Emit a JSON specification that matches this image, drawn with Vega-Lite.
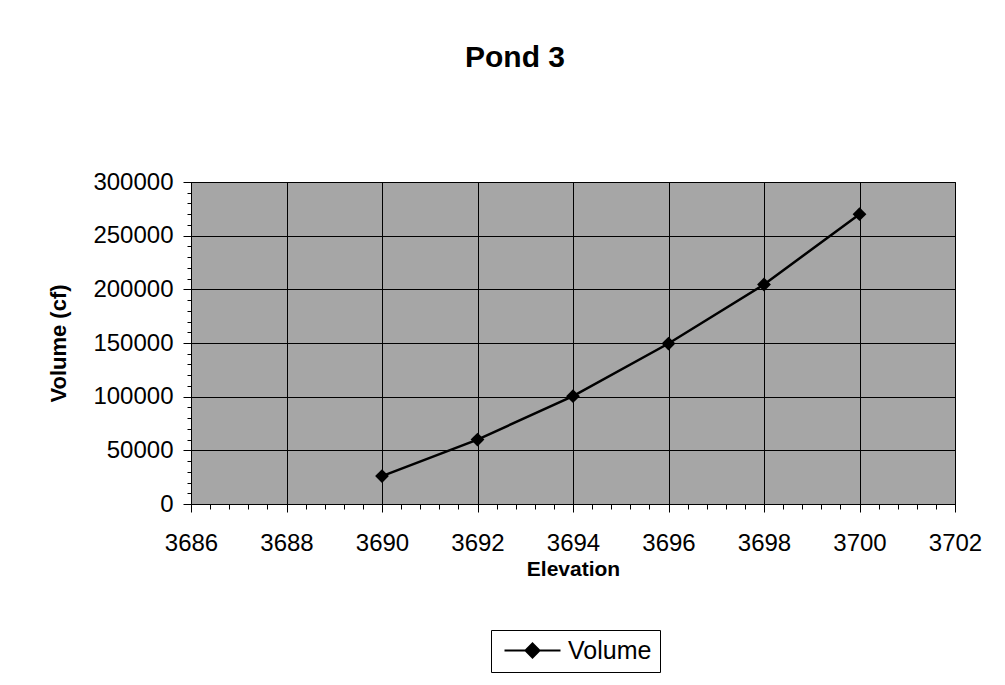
{
  "$schema": "https://vega.github.io/schema/vega-lite/v6.json",
  "width": 764,
  "height": 322,
  "autosize": {"type": "none"},
  "padding": {"left": 191, "top": 182, "right": 50, "bottom": 181},
  "background": "white",
  "title": {
    "text": "Pond 3",
    "font": "Liberation Sans",
    "fontSize": 30,
    "fontWeight": "bold",
    "color": "black",
    "anchor": "middle",
    "frame": "group",
    "baseline": "alphabetic",
    "dx": -58,
    "offset": 73
  },
  "config": {
    "view": {"fill": "#a6a6a6", "stroke": "black", "strokeWidth": 1},
    "axis": {
      "labelFont": "Liberation Sans",
      "titleFont": "Liberation Sans",
      "labelColor": "black",
      "titleColor": "black",
      "domainColor": "black",
      "tickColor": "black",
      "gridColor": "black",
      "gridOpacity": 1,
      "gridWidth": 1
    }
  },
  "data": {
    "values": [
      {"Elevation": 3690, "Volume": 26000, "series": "Volume"},
      {"Elevation": 3692, "Volume": 60000, "series": "Volume"},
      {"Elevation": 3694, "Volume": 100500, "series": "Volume"},
      {"Elevation": 3696, "Volume": 149500, "series": "Volume"},
      {"Elevation": 3698, "Volume": 204500, "series": "Volume"},
      {"Elevation": 3700, "Volume": 270000, "series": "Volume"}
    ]
  },
  "resolve": {"axis": {"x": "independent", "y": "independent"}},
  "layer": [
    {
      "mark": {"type": "line", "strokeWidth": 2.5},
      "encoding": {
        "x": {
          "field": "Elevation",
          "type": "quantitative",
          "scale": {"domain": [3686, 3702], "nice": false, "zero": false},
          "axis": {
            "orient": "bottom",
            "values": [3686, 3688, 3690, 3692, 3694, 3696, 3698, 3700, 3702],
            "grid": true,
            "tickSize": 8,
            "labelFontSize": 24,
            "labelPadding": 19,
            "labelFlush": false,
            "format": "d",
            "title": "Elevation",
            "titleFontSize": 21,
            "titleFontWeight": "bold",
            "titlePadding": 3
          }
        },
        "y": {
          "field": "Volume",
          "type": "quantitative",
          "scale": {"domain": [0, 300000], "nice": false},
          "axis": {
            "orient": "left",
            "values": [0, 50000, 100000, 150000, 200000, 250000, 300000],
            "grid": true,
            "tickSize": 8,
            "labelFontSize": 24,
            "labelPadding": 10,
            "labelFlush": false,
            "format": "d",
            "title": "Volume (cf)",
            "titleFontSize": 22,
            "titleFontWeight": "bold",
            "titlePadding": 22
          }
        },
        "color": {
          "field": "series",
          "type": "nominal",
          "scale": {"domain": ["Volume"], "range": ["black"]},
          "legend": {
            "title": null,
            "orient": "none",
            "legendX": 300,
            "legendY": 448,
            "direction": "vertical",
            "strokeColor": "black",
            "fillColor": "white",
            "padding": 8,
            "cornerRadius": 0,
            "symbolType": "M-1,0H7M3,-1L4,0L3,1L2,0Z",
            "symbolSize": 196,
            "symbolStrokeWidth": 2,
            "labelFont": "Liberation Sans",
            "labelFontSize": 25,
            "labelColor": "black",
            "labelOffset": 44,
            "encode": {
              "symbols": {
                "update": {
                  "fill": {"value": "black"},
                  "stroke": {"value": "black"},
                  "strokeWidth": {"value": 2}
                }
              }
            }
          }
        }
      }
    },
    {
      "mark": {"type": "point", "shape": "diamond", "filled": true, "color": "black", "size": 190, "opacity": 1},
      "encoding": {
        "x": {
          "field": "Elevation",
          "type": "quantitative",
          "axis": {
            "orient": "bottom",
            "values": [3686, 3686.4, 3686.8, 3687.2, 3687.6, 3688, 3688.4, 3688.8, 3689.2, 3689.6, 3690, 3690.4, 3690.8, 3691.2, 3691.6, 3692, 3692.4, 3692.8, 3693.2, 3693.6, 3694, 3694.4, 3694.8, 3695.2, 3695.6, 3696, 3696.4, 3696.8, 3697.2, 3697.6, 3698, 3698.4, 3698.8, 3699.2, 3699.6, 3700, 3700.4, 3700.8, 3701.2, 3701.6, 3702],
            "labels": false,
            "domain": false,
            "grid": false,
            "tickSize": 5,
            "title": null
          }
        },
        "y": {
          "field": "Volume",
          "type": "quantitative",
          "axis": {
            "orient": "left",
            "values": [0, 10000, 20000, 30000, 40000, 50000, 60000, 70000, 80000, 90000, 100000, 110000, 120000, 130000, 140000, 150000, 160000, 170000, 180000, 190000, 200000, 210000, 220000, 230000, 240000, 250000, 260000, 270000, 280000, 290000, 300000],
            "labels": false,
            "domain": false,
            "grid": false,
            "tickSize": 4,
            "title": null
          }
        }
      }
    }
  ]
}
